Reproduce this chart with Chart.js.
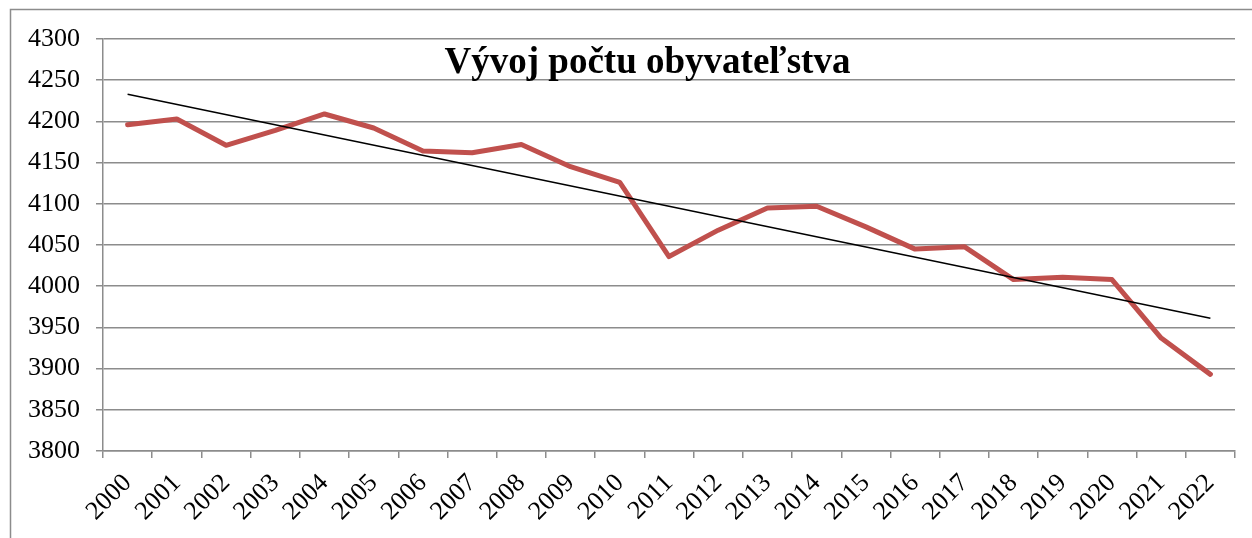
<!DOCTYPE html>
<html>
<head>
<meta charset="utf-8">
<script src="https://cdn.jsdelivr.net/npm/chart.js@4"></script>
<style>
html,body{margin:0;padding:0;background:#fff;}
#wrap{width:1252px;height:538px;position:relative;}
</style>
</head>
<body>
<div id="wrap"><canvas id="c" width="1252" height="538"></canvas></div>
<script>
const categories = ["2000","2001","2002","2003","2004","2005","2006","2007","2008","2009","2010","2011","2012","2013","2014","2015","2016","2017","2018","2019","2020","2021","2022"];
const population = [4196,4203,4171,4189,4209,4192,4164,4162,4172,4145,4126,4036,4068,4095,4097,4072,4045,4048,4008,4011,4008,3937,3893];
const trendEnds = [4233,null,null,null,null,null,null,null,null,null,null,null,null,null,null,null,null,null,null,null,null,null,3961];
const titleText = "Vývoj počtu obyvateľstva";
const yMin = 3800, yMax = 4300, yStep = 50;

const frame = {
  id:'frame',
  beforeDraw(chart){
    const ctx = chart.ctx;
    ctx.save();
    ctx.fillStyle='#fff';
    ctx.fillRect(0,0,chart.width,chart.height);
    ctx.strokeStyle='#8c8c8c';
    ctx.lineWidth=1.5;
    ctx.beginPath();
    ctx.moveTo(10.5,chart.height);
    ctx.lineTo(10.5,9.5);
    ctx.lineTo(chart.width,9.5);
    ctx.stroke();
    ctx.restore();
  },
  afterDraw(chart){
    const ctx = chart.ctx;
    const a = chart.chartArea;
    ctx.save();
    ctx.font = 'bold 37px "Liberation Serif", "Times New Roman", serif';
    ctx.fillStyle = '#000';
    ctx.textAlign = 'center';
    ctx.textBaseline = 'alphabetic';
    ctx.fillText(titleText, a.left + (a.right - a.left) * 0.481, a.top + 34);
    ctx.restore();
  }
};

new Chart(document.getElementById('c'), {
  type:'line',
  data:{
    labels: categories,
    datasets:[
      {data: population, borderColor:'#C0504D', borderWidth:5, pointRadius:0, tension:0, borderJoinStyle:'round', borderCapStyle:'round', order:2},
      {data: trendEnds, borderColor:'#000', borderWidth:1.5, pointRadius:0, spanGaps:true, tension:0, order:1}
    ]
  },
  options:{
    responsive:false,
    animation:false,
    events:[],
    layout:{padding:{left:0,right:17,top:39,bottom:0}},
    plugins:{legend:{display:false},tooltip:{enabled:false},title:{display:false}},
    scales:{
      x:{
        offset:true,
        grid:{display:true, drawOnChartArea:false, drawTicks:true, tickLength:7, offset:true, color:'#8c8c8c', lineWidth:1.5},
        border:{display:true, color:'#8c8c8c', width:1.5},
        ticks:{color:'#000', font:{family:'"Liberation Serif", "Times New Roman", serif', size:26}, minRotation:45, maxRotation:45, padding:10, autoSkip:false},
        afterFit(s){ s.height = 87; }
      },
      y:{
        min:yMin, max:yMax,
        grid:{color:'#8c8c8c', lineWidth:1.5, tickLength:7, drawTicks:true},
        border:{display:true, color:'#8c8c8c', width:1.5},
        ticks:{stepSize:yStep, color:'#000', font:{family:'"Liberation Serif", "Times New Roman", serif', size:26}, padding:16, callback:(v)=>String(v)},
        afterFit(s){ s.width = 103; }
      }
    }
  },
  plugins:[frame]
});
</script>
</body>
</html>
